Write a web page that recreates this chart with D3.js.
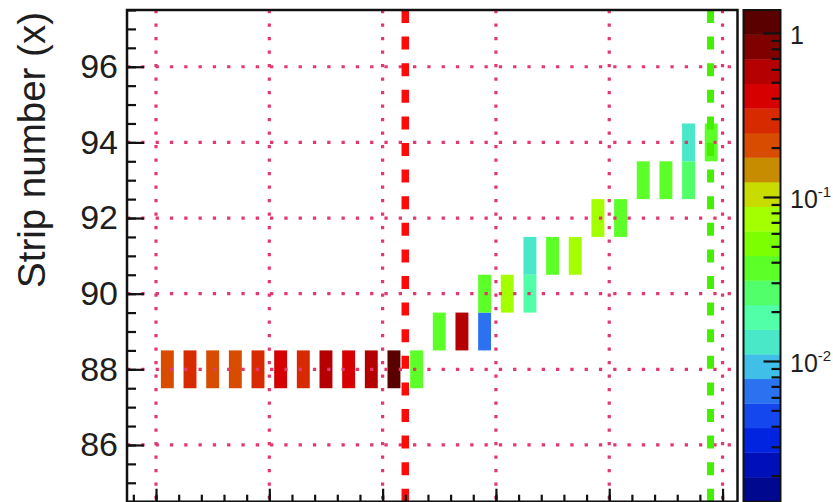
<!DOCTYPE html>
<html><head><meta charset="utf-8">
<script src="https://cdn.jsdelivr.net/npm/d3@7"></script>
<style>
html,body{margin:0;padding:0;background:#fff;}
svg{display:block;font-family:"Liberation Sans",Arial,Helvetica,sans-serif;}
</style>
</head><body>
<svg id="chart" width="833" height="502"></svg>
<script>
// ---------------- data ----------------
const binIndex = [0,1,2,3,4,5,6,7,8,9,10, 11, 12,13,14,14, 15,16,16, 17,18, 19,20, 21,22,23,23, 24];
const stripNumber = [88,88,88,88,88,88,88,88,88,88,88, 88, 89,89,89,90, 90,90,91, 91,91, 92,92, 93,93,93,94, 94];
const signal = [0.20,0.28,0.21,0.20,0.30,0.42,0.27,0.60,0.40,0.55,1.15, 0.038, 0.040,0.55,0.006,0.035, 0.075,0.019,0.013, 0.036,0.070, 0.078,0.040, 0.042,0.040,0.027,0.013, 0.034];

const yMajorTicks = [86,88,90,92,94,96];
const yMinorTicks = d3.range(84.5, 97.51, 0.5);
const xMajorTicks = [0,5,10,15,20,25];
const xMinorTicks = d3.range(-1, 26, 1);
const zMajorTicks = [1, 0.1, 0.01];
const zMinorTicks = [0.9,0.8,0.7,0.6,0.5,0.4,0.3,0.2, 0.09,0.08,0.07,0.06,0.05,0.04,0.03,0.02, 0.009,0.008,0.007,0.006,0.005,0.004,0.003,0.002];
const zExponents = {"1": null, "0.1": "-1", "0.01": "-2"};
// palette from top (high) to bottom (low)
const paletteColors = ["#5a0000","#800000","#b40000","#d60000","#d82a00","#d84c00","#c88c00","#c8dc00","#a4ff00","#7cff00",
                       "#5cff28","#50ff6a","#50ffa8","#48e8c8","#40c0e8","#2a72f0","#1448ee","#0024e0","#0010b8","#000890"];
const redLineX = 11;
const greenLineX = 24.47;
const yAxisTitle = "Strip number (x)";

// ---------------- layout ----------------
const frame = {left:127, right:737.5, top:10, bottom:501.7};
const cbar = {left:743.5, right:780.5};
const svg = d3.select("#chart");
svg.append("rect").attr("width",833).attr("height",502).attr("fill","#fff");

const x = d3.scaleLinear().domain([-1.28, 25.66]).range([frame.left, frame.right]);
const y = d3.scaleLinear().domain([84.5, 97.5]).range([frame.bottom, frame.top]);
const zMin = 0.001387, zMax = 1.38;
const z = d3.scaleLog().domain([zMin, zMax]).range([frame.bottom, frame.top]);
const color = d3.scaleQuantize()
  .domain([Math.log10(zMin), Math.log10(zMax)])
  .range(paletteColors.slice().reverse());

const plot = svg.append("g");
plot.append("defs").append("clipPath").attr("id","clipF")
  .append("rect").attr("x",frame.left).attr("y",frame.top)
  .attr("width",frame.right-frame.left).attr("height",frame.bottom-frame.top);
const inner = plot.append("g").attr("clip-path","url(#clipF)");

// cells
const cells = binIndex.map((b,i)=>({b, s:stripNumber[i], v:signal[i]}));
const bw = x(1)-x(0);
const cellFrac = 0.57;
inner.selectAll("rect.cell").data(cells).enter().append("rect")
  .attr("class","cell")
  .attr("x", d => x(d.b+0.5) - bw*cellFrac/2)
  .attr("width", bw*cellFrac)
  .attr("y", d => y(d.s+0.5))
  .attr("height", d => y(d.s-0.5)-y(d.s+0.5))
  .attr("fill", d => color(Math.log10(d.v)));

// grid
const gridColor = "#e3386e";
inner.selectAll("line.hg").data(yMajorTicks).enter().append("line")
  .attr("x1",frame.left).attr("x2",frame.right)
  .attr("y1",d=>y(d)).attr("y2",d=>y(d))
  .attr("stroke",gridColor).attr("stroke-width",3.2).attr("stroke-dasharray","3.3,11");
inner.selectAll("line.vg").data(xMajorTicks).enter().append("line")
  .attr("y1",frame.top).attr("y2",frame.bottom)
  .attr("x1",d=>x(d)).attr("x2",d=>x(d))
  .attr("stroke",gridColor).attr("stroke-width",3.2).attr("stroke-dasharray","3.3,10.2");

// dashed marker lines
inner.append("line").attr("x1",x(redLineX)).attr("x2",x(redLineX))
  .attr("y1",frame.top).attr("y2",frame.bottom)
  .attr("stroke","#ff0a0a").attr("stroke-width",7.5).attr("stroke-dasharray","13,13.6");
inner.append("line").attr("x1",x(greenLineX)).attr("x2",x(greenLineX))
  .attr("y1",frame.top).attr("y2",frame.bottom)
  .attr("stroke","#44f000").attr("stroke-width",7).attr("stroke-dasharray","13,13.6");

// axes
const txtColor = "#1e1e1e";
const yAx = svg.append("g").attr("transform",`translate(${frame.left},0)`)
  .call(d3.axisLeft(y).tickValues(yMajorTicks).tickSize(-17).tickPadding(9).tickFormat(d3.format("d")));
const yAxMinor = svg.append("g").attr("transform",`translate(${frame.left},0)`)
  .call(d3.axisLeft(y).tickValues(yMinorTicks).tickSize(-9).tickFormat(""));
const xAx = svg.append("g").attr("transform",`translate(0,${frame.bottom})`)
  .call(d3.axisBottom(x).tickValues(xMajorTicks).tickSize(-13).tickFormat(""));
const xAxMinor = svg.append("g").attr("transform",`translate(0,${frame.bottom})`)
  .call(d3.axisBottom(x).tickValues(xMinorTicks).tickSize(-7).tickFormat(""));
[yAx,yAxMinor,xAx,xAxMinor].forEach(g=>{
  g.select(".domain").remove();
  g.selectAll(".tick line").attr("stroke","#111").attr("stroke-width",2.2);
});
yAx.selectAll("text").attr("font-size",34).attr("fill",txtColor)
  .attr("font-family",'"Liberation Sans",Arial,sans-serif');

// frame
svg.append("rect").attr("x",frame.left).attr("y",frame.top)
  .attr("width",frame.right-frame.left).attr("height",frame.bottom-frame.top)
  .attr("fill","none").attr("stroke","#111").attr("stroke-width",2.5);

// y title
svg.append("text")
  .attr("transform",`translate(45,${frame.top+2}) rotate(-90)`)
  .attr("text-anchor","end")
  .attr("font-size",38.5).attr("fill",txtColor)
  .text(yAxisTitle);

// colour bar
const lMin = Math.log10(zMin), lMax = Math.log10(zMax);
const levels = d3.range(paletteColors.length+1).map(i => Math.pow(10, lMin + i*(lMax-lMin)/paletteColors.length));
const revPal = paletteColors.slice().reverse();
svg.append("g").selectAll("rect").data(d3.range(paletteColors.length)).enter().append("rect")
  .attr("x",cbar.left).attr("width",cbar.right-cbar.left)
  .attr("y",i=>z(levels[i+1]))
  .attr("height",i=>z(levels[i])-z(levels[i+1])+0.3)
  .attr("fill",i=>revPal[i]);
svg.append("rect").attr("x",cbar.left).attr("y",frame.top)
  .attr("width",cbar.right-cbar.left).attr("height",frame.bottom-frame.top)
  .attr("fill","none").attr("stroke","#111").attr("stroke-width",2);

const zAx = svg.append("g").attr("transform",`translate(${cbar.right},0)`)
  .call(d3.axisRight(z).tickValues(zMajorTicks).tickSize(-17).tickPadding(9.5).tickFormat(d => zExponents[String(d)] ? "10" : "1"));
const zAxMinor = svg.append("g").attr("transform",`translate(${cbar.right},0)`)
  .call(d3.axisRight(z).tickValues(zMinorTicks).tickSize(-9).tickFormat(""));
[zAx,zAxMinor].forEach(g=>{
  g.select(".domain").remove();
  g.selectAll(".tick line").attr("stroke","#111").attr("stroke-width",2.2);
});
zAx.selectAll("text").attr("font-size",25).attr("fill",txtColor).attr("dy","0.42em")
  .each(function(d){
    const e = zExponents[String(d)];
    if(e){
      d3.select(this).append("tspan").attr("font-size",15).attr("dy","-0.75em").text(e);
    }
  });
</script>
</body></html>
